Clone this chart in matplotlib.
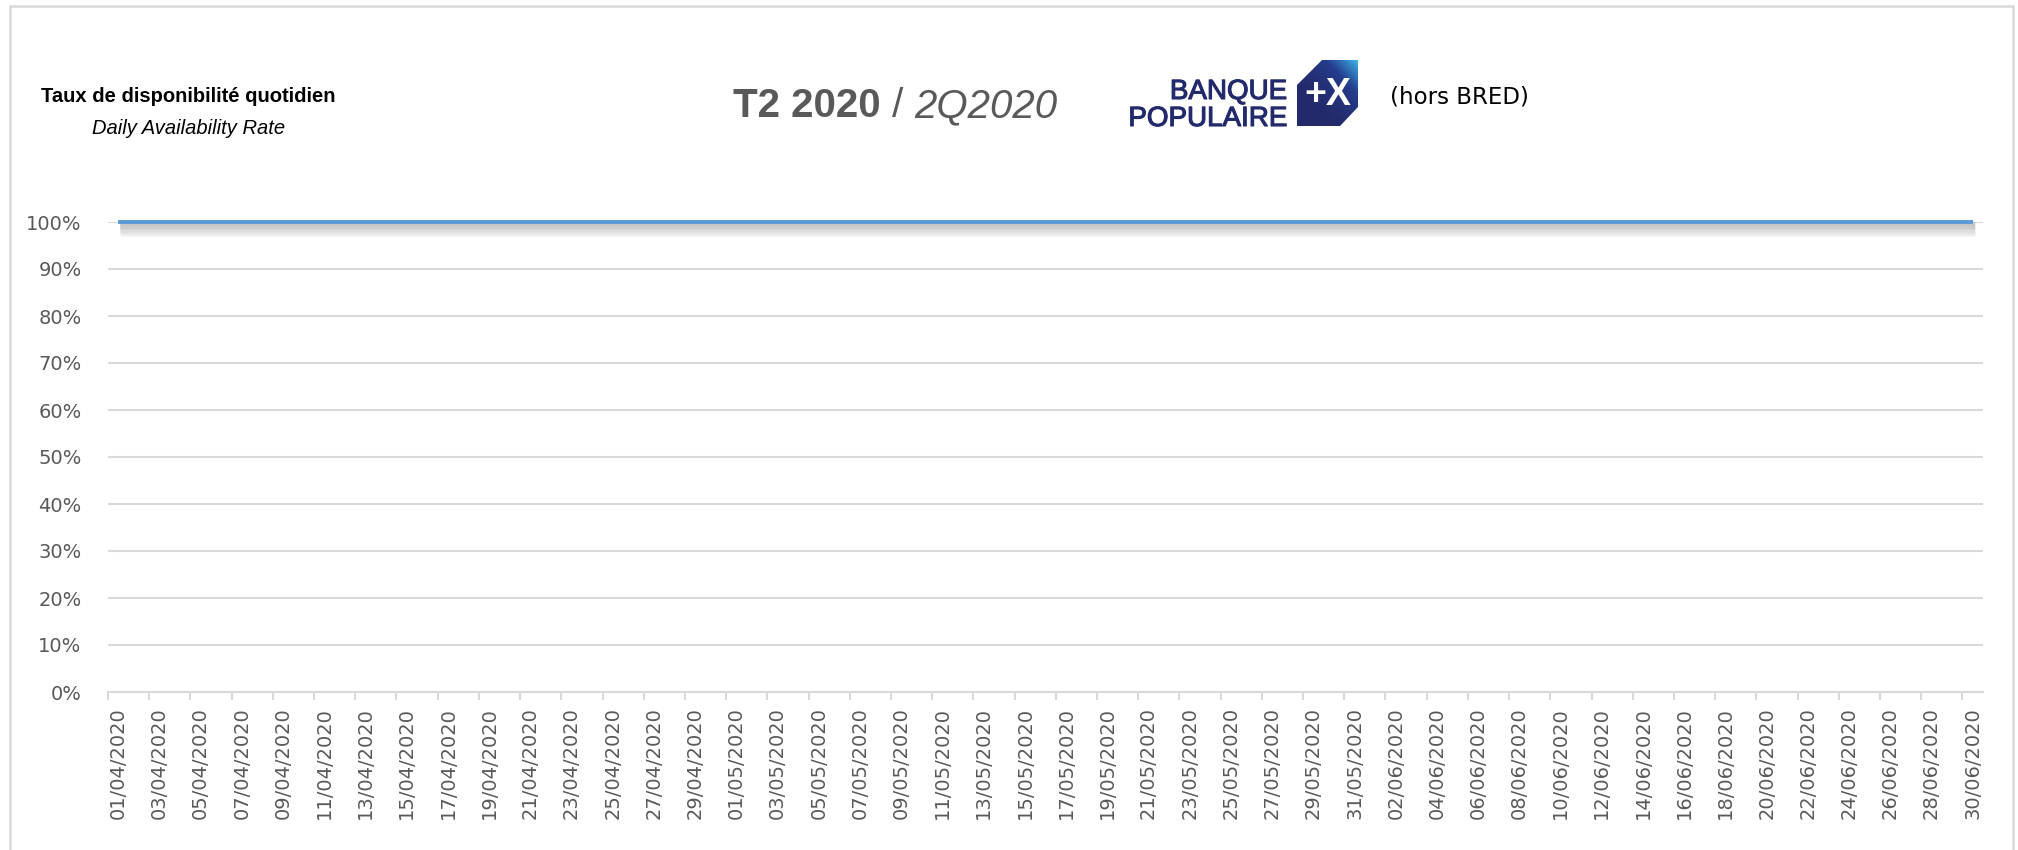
import numpy as np
import pandas as pd
import matplotlib
matplotlib.use('Agg')
import matplotlib.pyplot as plt
import matplotlib.patheffects as pe
from matplotlib.patches import Polygon, Rectangle
from matplotlib.colors import LinearSegmentedColormap

# categories : one point per day of the quarter
dates = pd.date_range('2020-04-01', '2020-06-30', freq='D')
date_labels = [d.strftime('%d/%m/%Y') for d in dates]

avail_apr = [1.00, 1.00, 1.00, 1.00, 1.00, 1.00, 1.00, 1.00, 1.00, 1.00,
             1.00, 1.00, 1.00, 1.00, 1.00, 1.00, 1.00, 1.00, 1.00, 1.00,
             1.00, 1.00, 1.00, 1.00, 1.00, 1.00, 1.00, 1.00, 1.00, 1.00]
avail_may = [1.00, 1.00, 1.00, 1.00, 1.00, 1.00, 1.00, 1.00, 1.00, 1.00,
             1.00, 1.00, 1.00, 1.00, 1.00, 1.00, 1.00, 1.00, 1.00, 1.00,
             1.00, 1.00, 1.00, 1.00, 1.00, 1.00, 1.00, 1.00, 1.00, 1.00,
             1.00]
avail_jun = [1.00, 1.00, 1.00, 1.00, 1.00, 1.00, 1.00, 1.00, 1.00, 1.00,
             1.00, 1.00, 1.00, 1.00, 1.00, 1.00, 1.00, 1.00, 1.00, 1.00,
             1.00, 1.00, 1.00, 1.00, 1.00, 1.00, 1.00, 1.00, 1.00, 1.00]
availability = avail_apr + avail_may + avail_jun

y_ticks = [0.0, 0.1, 0.2, 0.3, 0.4, 0.5, 0.6, 0.7, 0.8, 0.9, 1.0]
y_tick_labels = ['0%', '10%', '20%', '30%', '40%', '50%',
                 '60%', '70%', '80%', '90%', '100%']

W, H = 2018, 850
GREY = '#595959'
GRID = '#D9D9D9'
NAVY = '#232A6B'


def px(x, y):
    # pixel position (from top left) -> figure fraction
    return x / W, 1 - y / H


fig = plt.figure(figsize=(W / 100, H / 100), dpi=100)

# light frame round the chart area
fig.patches.append(Rectangle((10 / W, -0.05), (2013 - 10) / W, 1.05 - 6 / H,
                             transform=fig.transFigure, fill=False,
                             edgecolor=GRID, lw=1.8))

ax = fig.add_axes([108 / W, 1 - 692 / H, (1983 - 108) / W, (692 - 222) / H])

# soft shadow under the line: a few faint offset copies
shadow = [pe.SimpleLineShadow(offset=(1.5, -k), shadow_color='#606060',
                              alpha=0.07, linewidth=3 + k)
          for k in np.arange(1.0, 7.0, 1.0)]
x = np.arange(len(dates))
ax.plot(x, availability, color='#5B9BD5', lw=2.8, clip_on=False, zorder=3,
        solid_capstyle='butt', path_effects=shadow + [pe.Normal()])

ax.set_xlim(-0.5, len(dates) - 0.5)
ax.set_ylim(0, 1)
ax.set_yticks(y_ticks)
ax.set_yticklabels(y_tick_labels)
ax.yaxis.grid(True, color=GRID, lw=1.5)
ax.set_axisbelow(True)
ax.tick_params(axis='y', length=0, pad=19, labelsize=14, labelcolor=GREY)

for s in ['top', 'right', 'left']:
    ax.spines[s].set_visible(False)
ax.spines['bottom'].set_color(GRID)
ax.spines['bottom'].set_linewidth(1.5)

# tick marks between categories, labels on every other day
ax.set_xticks(np.arange(-0.5, len(dates) - 1, 2))
ax.set_xticklabels([])
ax.tick_params(axis='x', which='major', length=6, width=1.5, color=GRID)
ax.set_xticks(x[::2], minor=True)
ax.set_xticklabels(date_labels[::2], minor=True, rotation=90, va='top')
ax.tick_params(axis='x', which='minor', length=0, pad=11,
               labelsize=14, labelcolor=GREY)

# headings
fig.text(*px(188, 97), 'Taux de disponibilité quotidien', fontsize=14.5,
         fontweight='bold', family='Liberation Sans', ha='center', va='center')
fig.text(*px(189, 128), 'Daily Availability Rate', fontsize=14.5,
         fontstyle='italic', family='Liberation Sans', ha='center', va='center')

t1 = fig.text(*px(733, 117), 'T2 2020', fontsize=29, fontweight='bold',
              color=GREY, family='Liberation Sans', ha='left', va='baseline')
t2 = fig.text(0, 0, ' / ', fontsize=29, color=GREY, family='Liberation Sans')
t3 = fig.text(0, 0, '2Q2020', fontsize=29, fontstyle='italic', color=GREY,
              family='Liberation Sans')
fig.canvas.draw()
r = fig.canvas.get_renderer()
b = t1.get_window_extent(r)
t2.set_position((b.x1 / W, b.y0 / H))
t2.set_va('bottom')
b = t2.get_window_extent(r)
t3.set_position((b.x1 / W, b.y0 / H))
t3.set_va('bottom')

fig.text(*px(1390, 97), '(hors BRED)', fontsize=16.5, ha='left', va='center',
         color='black')

# logo : text + gradient box with +X
lax = fig.add_axes([1100 / W, 1 - 135 / H, 280 / W, 85 / H])
lax.set_xlim(1100, 1380)
lax.set_ylim(135, 50)
lax.axis('off')
lax.text(1287, 99, 'BANQUE', fontsize=20, color=NAVY,
         family='Liberation Sans', ha='right', va='baseline')
lax.text(1287, 126, 'POPULAIRE', fontsize=20, color=NAVY,
         family='Liberation Sans', ha='right', va='baseline',
         path_effects=[pe.withStroke(linewidth=0.8, foreground=NAVY)])
lax.texts[0].set_path_effects([pe.withStroke(linewidth=0.8, foreground=NAVY)])
box = Polygon([(1322, 60), (1358, 60), (1358, 107), (1340, 126),
               (1297, 126), (1297, 85)], closed=True, facecolor='none',
              edgecolor='none')
lax.add_patch(box)
gx, gy = np.meshgrid(np.linspace(0, 1, 80), np.linspace(0, 1, 80))
grad = np.clip(gx * 0.6 + (1 - gy) * 0.6 - 0.35, 0, 1) ** 1.5
cmap = LinearSegmentedColormap.from_list('bp', [NAVY, '#233C8C', '#3FB4E8'])
im = lax.imshow(grad, cmap=cmap, extent=(1297, 1358, 126, 60),
                aspect='auto', origin='upper', zorder=1)
im.set_clip_path(box)
lax.text(1328, 95, '+X', fontsize=27, fontweight='bold', color='white',
         family='Liberation Sans', ha='center', va='center', zorder=2)

fig.savefig('out.png', dpi=100)
